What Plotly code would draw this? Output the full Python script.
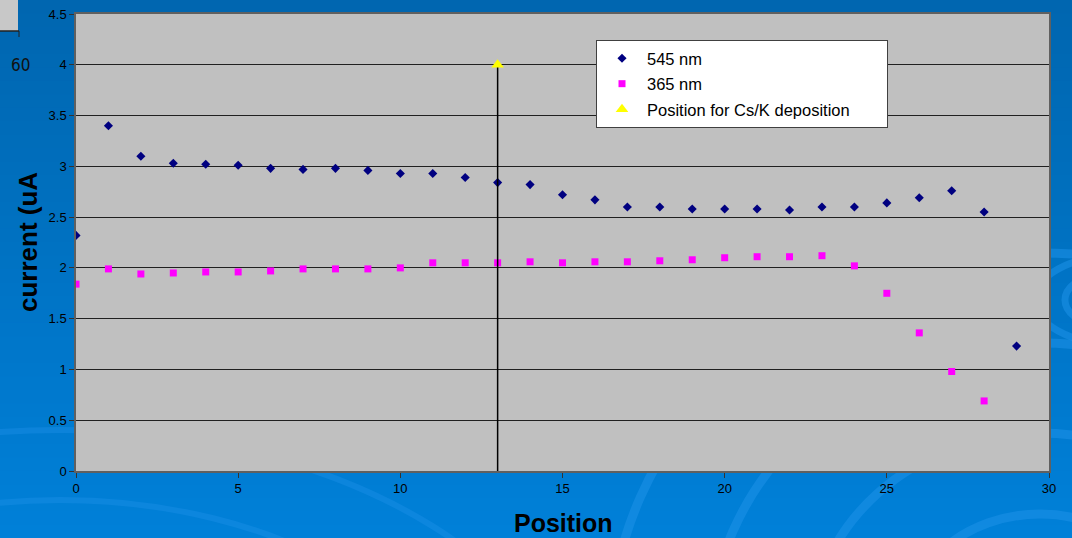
import plotly.graph_objects as go

# Measurement positions
positions = list(range(0, 30))

# Photocurrent at 545 nm (uA)
current_545 = [2.32, 3.40, 3.10, 3.03, 3.02, 3.01, 2.98, 2.97, 2.98, 2.96,
               2.93, 2.93, 2.89, 2.84, 2.82, 2.72, 2.67, 2.60, 2.60, 2.58,
               2.58, 2.58, 2.57, 2.60, 2.60, 2.64, 2.69, 2.76, 2.55, 1.23]

# Photocurrent at 365 nm (uA)
positions_365 = list(range(0, 29))
current_365 = [1.84, 1.99, 1.94, 1.95, 1.96, 1.96, 1.97, 1.99, 1.99, 1.99,
               2.00, 2.05, 2.05, 2.05, 2.06, 2.05, 2.06, 2.06, 2.07, 2.08,
               2.10, 2.11, 2.11, 2.12, 2.02, 1.75, 1.36, 0.98, 0.69]

# Cs/K deposition marker
deposition_x = [13]
deposition_y = [4.0]

# Legend labels (trailing spaces keep the legend box wide)
PAD = "\u00a0" * 7
names = ["545 nm", "365 nm", "Position for Cs/K deposition" + PAD]

W, H = 1072, 538
L, R, T, B = 76, 23, 14, 67
PW, PH = W - L - R, H - T - B


def px(xp):
    """pixel column -> paper x"""
    return (xp - L) / PW


def py(yp):
    """pixel row -> paper y"""
    return (H - B - yp) / PH


fig = go.Figure()

fig.add_trace(go.Scatter(
    x=positions, y=current_545, mode="markers", name=names[0],
    legendgroup="a",
    marker=dict(symbol="diamond", size=7, color="#000080"),
))
fig.add_trace(go.Scatter(
    x=positions_365, y=current_365, mode="markers", name=names[1],
    legendgroup="b",
    marker=dict(symbol="square", size=7, color="#FF00FF"),
))
fig.add_trace(go.Scatter(
    x=deposition_x, y=deposition_y, mode="markers",
    name=names[2],
    legendgroup="c",
    marker=dict(symbol="triangle-up", size=11, color="#FFFF00"),
    error_y=dict(type="data", symmetric=False, array=[0],
                 arrayminus=deposition_y, color="black", thickness=1.5, width=0),
))

shapes = []

# Slide backdrop: vertical blue gradient built from thin bands
top_rgb = (0, 102, 176)
bot_rgb = (0, 128, 216)
n_bands = 40
for i in range(n_bands):
    f = i / (n_bands - 1)
    c = tuple(round(top_rgb[k] + (bot_rgb[k] - top_rgb[k]) * f) for k in range(3))
    y0 = i * H / n_bands
    y1 = (i + 1) * H / n_bands + 1
    shapes.append(dict(type="rect", xref="paper", yref="paper",
                       x0=px(0), x1=px(W), y0=py(y1), y1=py(y0),
                       fillcolor="rgb(%d,%d,%d)" % c, line=dict(width=0),
                       layer="below"))

# Faint water ripples in the backdrop
ripple_col = "rgba(30,145,232,0.55)"
for rx, ry in ((25, 14), (50, 28), (80, 44)):
    cx, cy = 1115, 300
    shapes.append(dict(type="circle", xref="paper", yref="paper",
                       x0=px(cx - rx), x1=px(cx + rx), y0=py(cy + ry), y1=py(cy - ry),
                       line=dict(color=ripple_col, width=7), layer="below"))
for r in (140, 230, 330, 430):
    cx, cy = 1040, 640
    shapes.append(dict(type="circle", xref="paper", yref="paper",
                       x0=px(cx - r), x1=px(cx + r), y0=py(cy + r * 0.9), y1=py(cy - r * 0.9),
                       line=dict(color=ripple_col, width=9), layer="below"))
for r in (260, 330):
    cx, cy = 60, 760
    shapes.append(dict(type="circle", xref="paper", yref="paper",
                       x0=px(cx - r * 1.6), x1=px(cx + r * 1.6), y0=py(cy + r), y1=py(cy - r),
                       line=dict(color="rgba(30,145,232,0.4)", width=6), layer="below"))

# Gray plot area drawn over the backdrop
shapes.append(dict(type="rect", xref="paper", yref="paper", x0=0, x1=1, y0=0, y1=1,
                   fillcolor="#C0C0C0", line=dict(width=0), layer="below"))

# Small panel in the upper-left corner
shapes += [
    dict(type="rect", xref="paper", yref="paper",
         x0=px(0), x1=px(18), y0=py(31), y1=py(0),
         fillcolor="#C8C8C8", line=dict(width=0)),
    dict(type="line", xref="paper", yref="paper",
         x0=px(0), x1=px(19), y0=py(31), y1=py(31),
         line=dict(color="#222222", width=1.5)),
    dict(type="line", xref="paper", yref="paper",
         x0=px(19), x1=px(19), y0=py(31), y1=py(37),
         line=dict(color="#222222", width=1)),
]

fig.update_layout(
    width=W, height=H,
    margin=dict(l=L, r=R, t=T, b=B),
    paper_bgcolor="#0068B4",
    plot_bgcolor="rgba(0,0,0,0)",
    font=dict(family="Liberation Sans, Arial, sans-serif", color="black", size=13),
    showlegend=True,
    legend=dict(
        x=px(596), y=py(40), xanchor="left", yanchor="top",
        bgcolor="white", bordercolor="#404040", borderwidth=1,
        font=dict(size=16.5, family="Liberation Sans, Arial, sans-serif"),
        itemwidth=40, tracegroupgap=1, itemclick=False,
    ),
    shapes=shapes,
    annotations=[
        dict(text="60", xref="paper", yref="paper", x=px(20), y=py(65),
             showarrow=False, xanchor="center", yanchor="middle",
             font=dict(size=17, family="DejaVu Sans Condensed, Liberation Sans Narrow, sans-serif",
                       color="#111111")),
        dict(text="<b>current (uA</b>", xref="paper", yref="paper", x=px(28), y=py(242),
             showarrow=False, xanchor="center", yanchor="middle", textangle=-90,
             font=dict(size=26, family="Liberation Sans, Arial, sans-serif", color="black")),
        dict(text="<b>Position</b>", xref="paper", yref="paper", x=px(563), y=py(523),
             showarrow=False, xanchor="center", yanchor="middle",
             font=dict(size=25, family="Liberation Sans, Arial, sans-serif", color="black")),
    ],
)

fig.update_xaxes(
    range=[0, 30], tickvals=[0, 5, 10, 15, 20, 25, 30], automargin=False,
    showgrid=False, zeroline=False,
    showline=True, linecolor="#606060", linewidth=1.5, mirror=True,
    ticks="outside", ticklen=5, tickcolor="#333333",
    tickfont=dict(size=13),
)
fig.update_yaxes(
    range=[0, 4.5], dtick=0.5, automargin=False,
    showgrid=True, gridcolor="#202020", gridwidth=1, zeroline=False,
    showline=True, linecolor="#606060", linewidth=1.5, mirror=True,
    ticks="outside", ticklen=5, tickcolor="#333333",
    tickfont=dict(size=13),
)

fig.write_html("out.html")
